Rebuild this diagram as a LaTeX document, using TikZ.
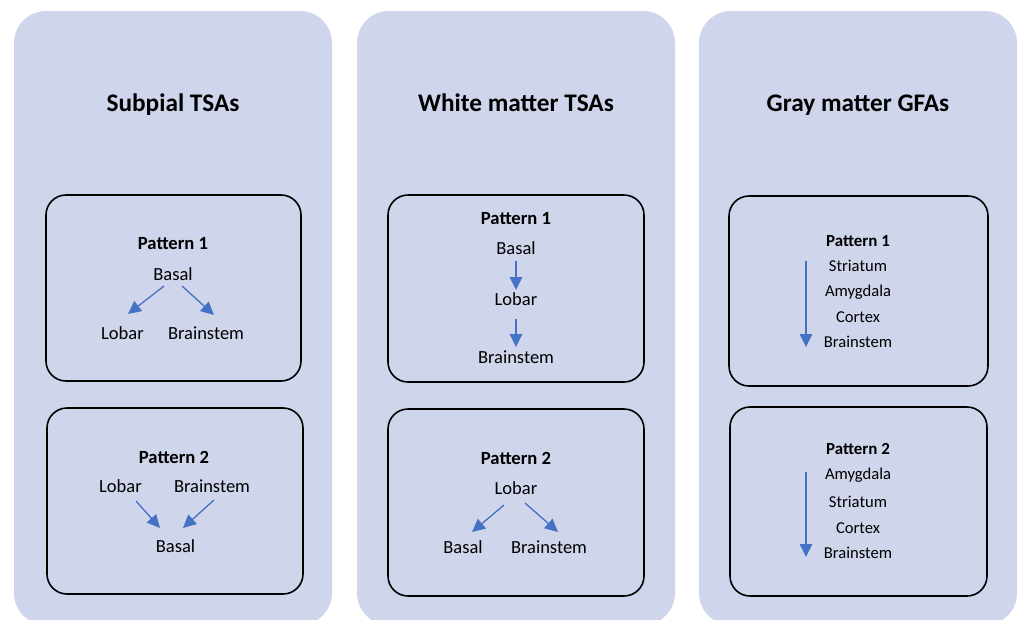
\documentclass[tikz,border=0pt]{standalone}
\usepackage{fontspec}
\setmainfont{Carlito}
\usetikzlibrary{arrows.meta}
\definecolor{panel}{HTML}{CFD5EA}
\definecolor{arrowblue}{HTML}{4472C4}
\begin{document}
\begin{tikzpicture}[x=1pt,y=-1pt,
  panelbox/.style={fill=panel, draw=none, rounded corners=32pt},
  patbox/.style={draw=black, line width=1.6pt, rounded corners=20pt},
  title/.style={font=\bfseries\fontsize{25.3}{30}\selectfont, anchor=base, inner sep=0pt},
  hdr/.style={font=\bfseries\fontsize{18.6}{22}\selectfont, anchor=base, inner sep=0pt},
  lbl/.style={font=\fontsize{18.5}{22}\selectfont, anchor=base, inner sep=0pt},
  shdr/.style={font=\bfseries\fontsize{16.9}{20}\selectfont, anchor=base, inner sep=0pt},
  slbl/.style={font=\fontsize{16.6}{20}\selectfont, anchor=base, inner sep=0pt},
  arr/.style={draw=arrowblue, line width=1.3pt, -{Triangle[length=13pt,width=12.5pt]}}]
\useasboundingbox (0,0) rectangle (1019,619);
\clip (0,0) rectangle (1019,619);
% panels
\path[panelbox] (14,11) rectangle (332,625);
\path[panelbox] (357,11) rectangle (675,625);
\path[panelbox] (699,11) rectangle (1017,625);
% pattern boxes
\draw[patbox] (46,195) rectangle (301,381);
\draw[patbox] (47,408) rectangle (303,594);
\draw[patbox] (388,195) rectangle (644,382);
\draw[patbox] (388,409) rectangle (644,596);
\draw[patbox] (729,196) rectangle (988,386);
\draw[patbox] (730,407) rectangle (987,596);
% titles
\node[title] (t1) at (173,111) {Subpial TSAs};
\node[title] (t2) at (516,111) {White matter TSAs};
\node[title] (t3) at (858,111) {Gray matter GFAs};
% column 1, pattern 1
\node[hdr] (c1p1) at (173,249) {Pattern 1};
\node[lbl] (c1p1basal) at (173,280) {Basal};
\node[lbl] (c1p1lobar) at (122.5,339) {Lobar};
\node[lbl] (c1p1brain) at (206,339) {Brainstem};
\coordinate (a1s) at (164,286); \coordinate (a1e) at (128,314);
\coordinate (a2s) at (182,286); \coordinate (a2e) at (214,315);
\draw[arr] (a1s) -- (a1e);
\draw[arr] (a2s) -- (a2e);
% column 1, pattern 2
\node[hdr] (c1p2) at (174,463) {Pattern 2};
\node[lbl] (c1p2lobar) at (120.5,492) {Lobar};
\node[lbl] (c1p2brain) at (212,492) {Brainstem};
\node[lbl] (c1p2basal) at (175.5,552) {Basal};
\coordinate (a3s) at (136,501); \coordinate (a3e) at (160,528);
\coordinate (a4s) at (214,500); \coordinate (a4e) at (183,528);
\draw[arr] (a3s) -- (a3e);
\draw[arr] (a4s) -- (a4e);
% column 2, pattern 1
\node[hdr] (c2p1) at (516,224) {Pattern 1};
\node[lbl] (c2p1basal) at (516,254) {Basal};
\node[lbl] (c2p1lobar) at (516,305) {Lobar};
\node[lbl] (c2p1brain) at (516,363) {Brainstem};
\coordinate (a5s) at (516,261); \coordinate (a5e) at (516,290);
\coordinate (a6s) at (516,319); \coordinate (a6e) at (516,347);
\draw[arr] (a5s) -- (a5e);
\draw[arr] (a6s) -- (a6e);
% column 2, pattern 2
\node[hdr] (c2p2) at (516,464) {Pattern 2};
\node[lbl] (c2p2lobar) at (516,494) {Lobar};
\node[lbl] (c2p2basal) at (463,553) {Basal};
\node[lbl] (c2p2brain) at (549,553) {Brainstem};
\coordinate (a7s) at (504,505); \coordinate (a7e) at (472,532);
\coordinate (a8s) at (525,503); \coordinate (a8e) at (558,532);
\draw[arr] (a7s) -- (a7e);
\draw[arr] (a8s) -- (a8e);
% column 3, pattern 1
\node[shdr] (c3p1) at (858,246) {Pattern 1};
\node[slbl] (c3p1s) at (858,271) {Striatum};
\node[slbl] (c3p1a) at (858,296) {Amygdala};
\node[slbl] (c3p1c) at (858,322) {Cortex};
\node[slbl] (c3p1b) at (858,347) {Brainstem};
\coordinate (a9s) at (806,261); \coordinate (a9e) at (806,347);
\draw[arr] (a9s) -- (a9e);
% column 3, pattern 2
\node[shdr] (c3p2) at (858,454) {Pattern 2};
\node[slbl] (c3p2a) at (858,479) {Amygdala};
\node[slbl] (c3p2s) at (858,507) {Striatum};
\node[slbl] (c3p2c) at (858,533) {Cortex};
\node[slbl] (c3p2b) at (858,558) {Brainstem};
\coordinate (a10s) at (806,472); \coordinate (a10e) at (806,557);
\draw[arr] (a10s) -- (a10e);
\end{tikzpicture}
\end{document}
